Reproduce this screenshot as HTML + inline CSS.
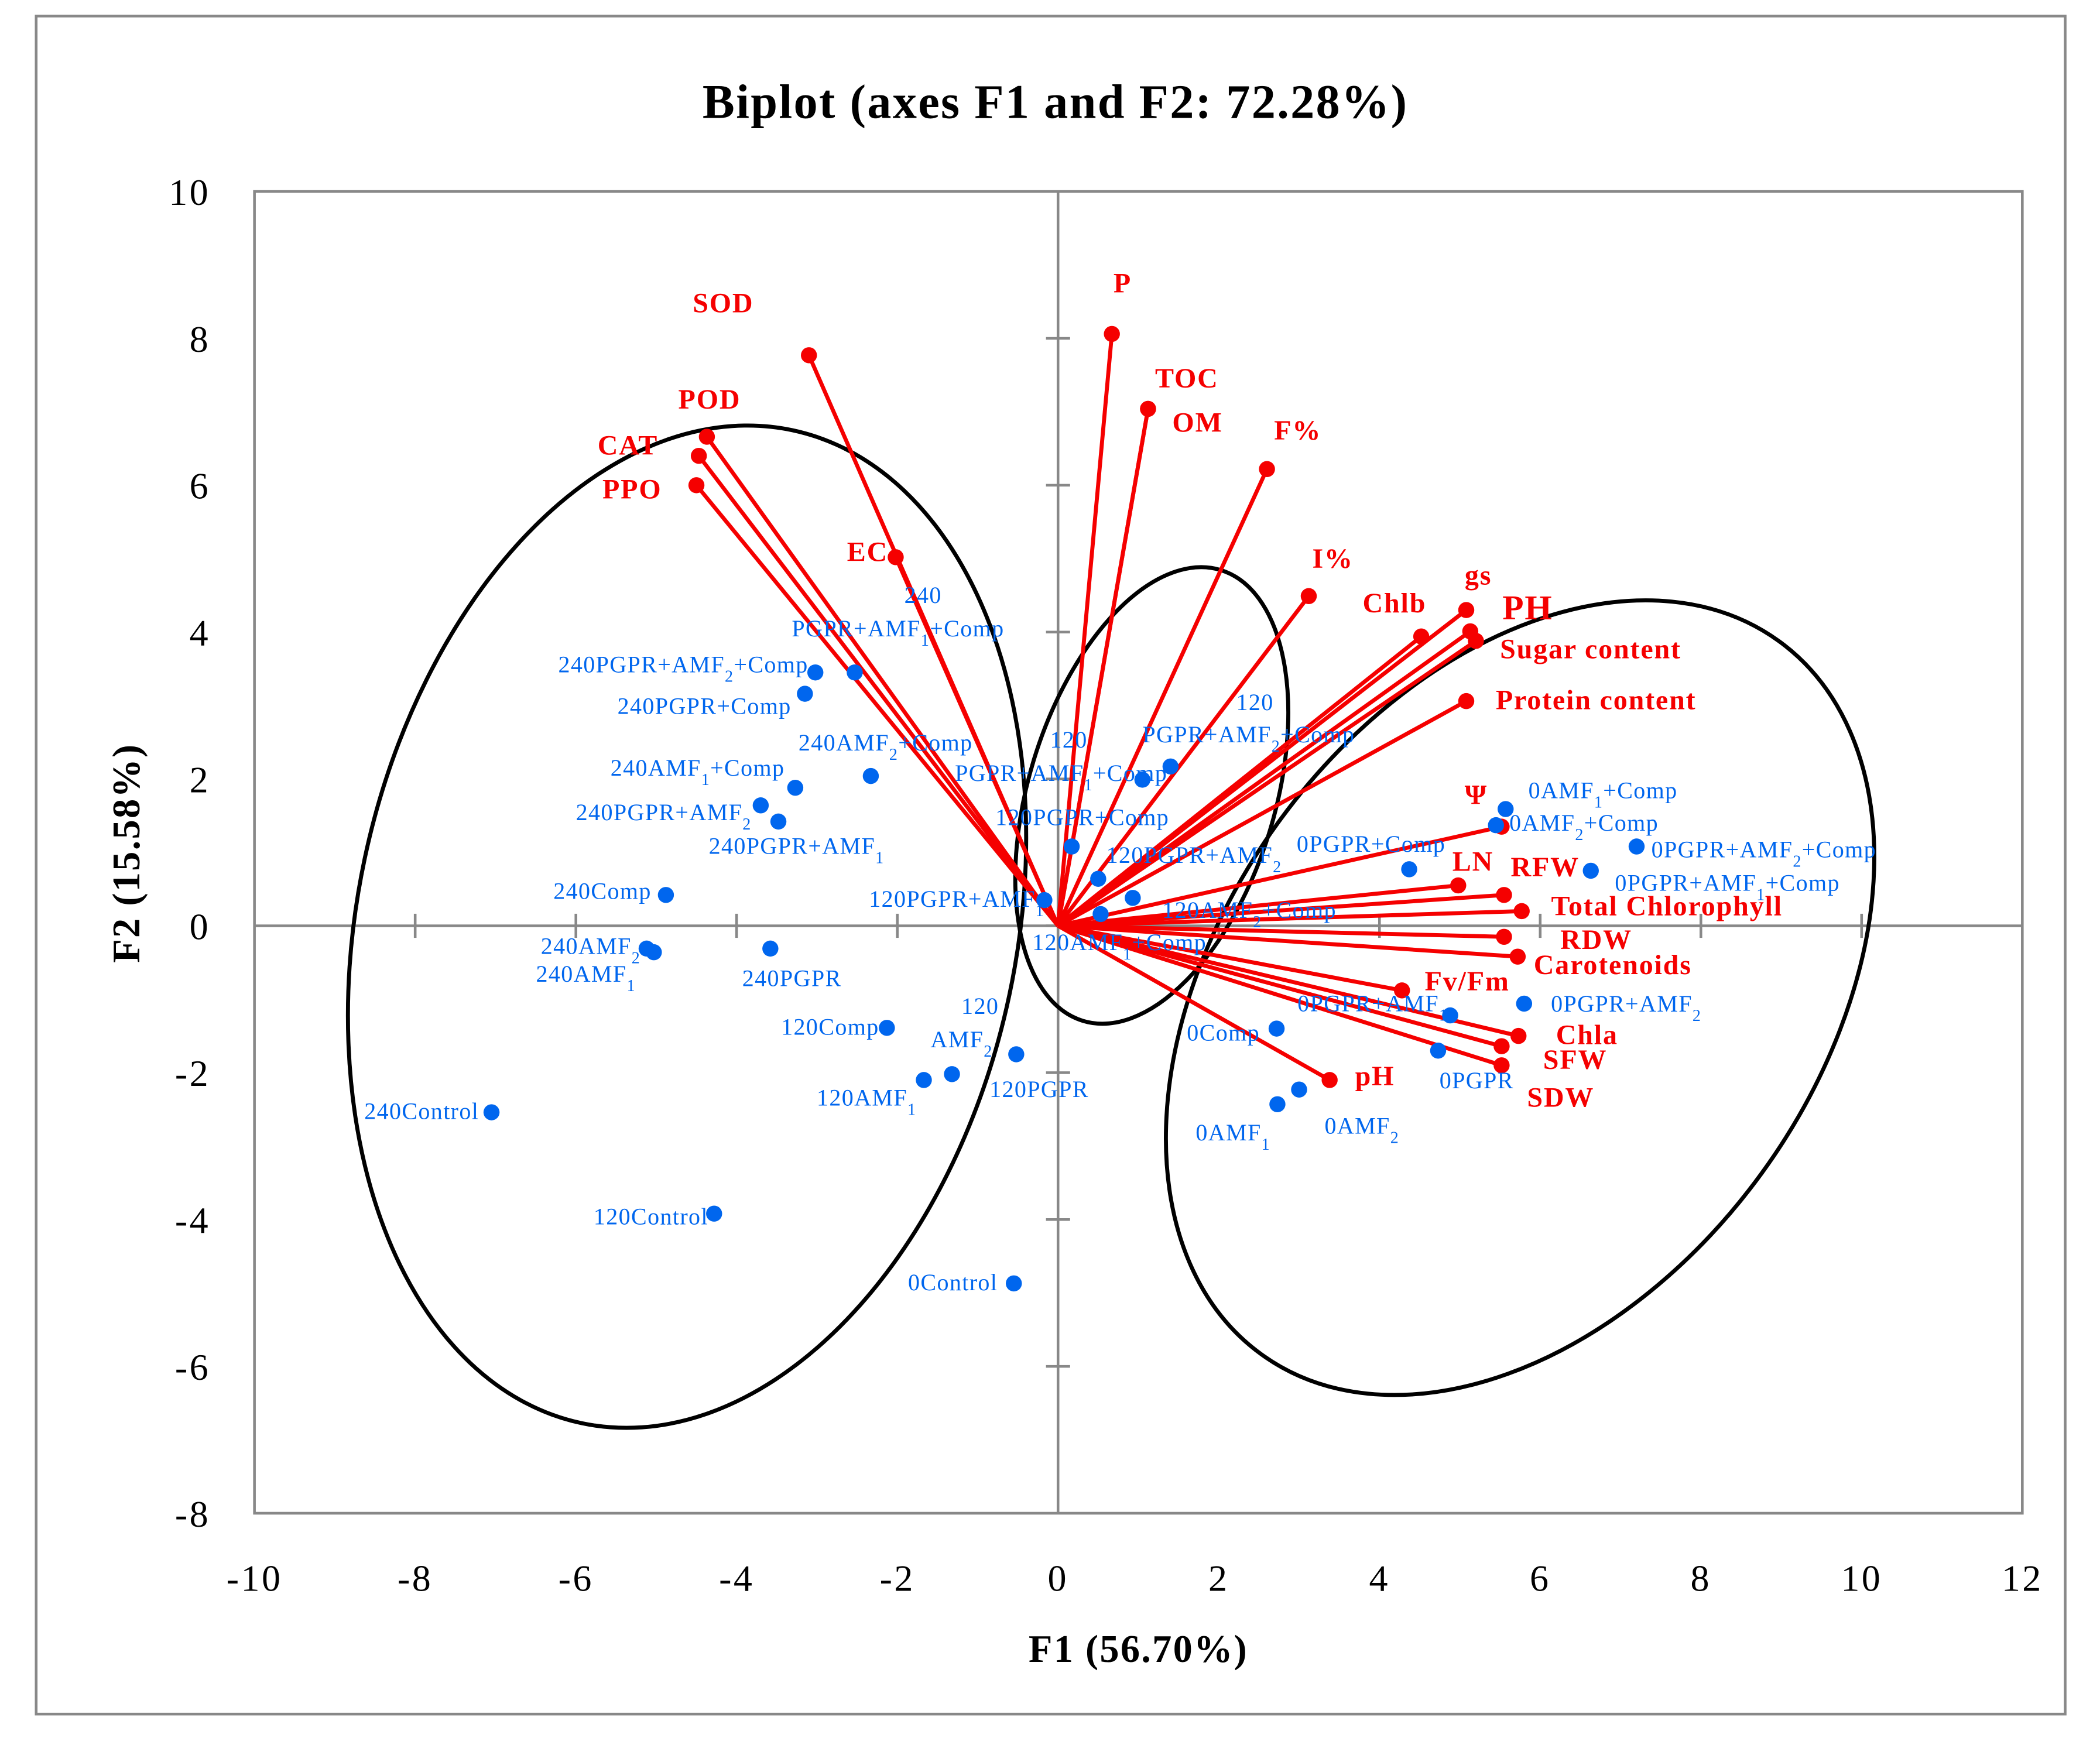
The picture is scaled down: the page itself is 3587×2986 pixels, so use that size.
<!DOCTYPE html>
<html><head><meta charset="utf-8"><style>
html,body{margin:0;padding:0;background:#fff;}
svg{display:block;}
text{font-family:"Liberation Serif",serif;}
</style></head><body>
<svg id="chart" width="3587" height="2986" viewBox="0 0 1568 1305.3" preserveAspectRatio="none" xmlns="http://www.w3.org/2000/svg">
<rect x="27" y="12" width="1515" height="1268" fill="#fff" stroke="#888" stroke-width="2"/>
<text x="788" y="88" font-size="36" font-weight="bold" letter-spacing="1" text-anchor="middle">Biplot (axes F1 and F2: 72.28%)</text>
<text x="850" y="1241" font-size="29" font-weight="bold" letter-spacing="1" text-anchor="middle">F1 (56.70%)</text>
<text transform="translate(104,637) rotate(-90)" font-size="29" font-weight="bold" letter-spacing="1" text-anchor="middle">F2 (15.58%)</text>
<g id="g"></g>
</svg>
<script>
const xTicks=[-10,-8,-6,-4,-2,0,2,4,6,8,10,12];
const yTicks=[-8,-6,-4,-2,0,2,4,6,8,10];
const varNames=["SOD","POD","CAT","PPO","EC","P","TOC","OM","F%","I%","Chlb","gs","PH","Sugar content","Protein content","Ψ","LN","RFW","Total Chlorophyll","RDW","Carotenoids","Fv/Fm","Chla","SFW","SDW","pH"];
const varX=[-3.1,-4.37,-4.47,-4.5,-2.02,0.67,1.12,1.12,2.6,3.12,4.52,5.08,5.13,5.2,5.08,5.52,4.98,5.55,5.77,5.55,5.72,4.28,5.73,5.52,5.52,3.38];
const varY=[7.77,6.66,6.40,6.0,5.02,8.06,7.04,7.04,6.22,4.49,3.94,4.30,4.01,3.88,3.06,1.35,0.55,0.42,0.2,-0.15,-0.42,-0.88,-1.5,-1.64,-1.9,-2.1];
const obsNames=["240PGPR+AMF_1+Comp","240PGPR+AMF_2+Comp","240PGPR+Comp","240AMF_2+Comp","240AMF_1+Comp","240PGPR+AMF_2","240PGPR+AMF_1","240Comp","240AMF_2","240AMF_1","240PGPR","240Control","120Comp","120AMF_2","120AMF_1","120PGPR","120Control","0Control","120PGPR+AMF_1","120PGPR+Comp","120PGPR+AMF_1+Comp","120PGPR+AMF_2+Comp","120PGPR+AMF_2","120AMF_2+Comp","120AMF_1+Comp","0PGPR+Comp","0AMF_1+Comp","0AMF_2+Comp","0PGPR+AMF_2+Comp","0PGPR+AMF_1+Comp","0PGPR+AMF_2","0PGPR+AMF_1","0PGPR","0Comp","0AMF_1","0AMF_2"];
const obsX=[-2.53,-3.02,-3.15,-2.33,-3.27,-3.7,-3.48,-4.88,-5.12,-5.03,-3.58,-7.05,-2.13,-1.32,-1.67,-0.52,-4.28,-0.55,-0.17,0.17,1.05,1.4,0.5,0.93,0.53,4.37,5.57,5.45,7.2,6.63,5.8,4.88,4.73,2.72,2.73,3.0];
const obsY=[3.45,3.45,3.16,2.04,1.88,1.64,1.42,0.42,-0.31,-0.36,-0.31,-2.54,-1.39,-2.02,-2.1,-1.75,-3.92,-4.87,0.35,1.08,1.99,2.17,0.64,0.38,0.16,0.77,1.59,1.37,1.08,0.75,-1.06,-1.22,-1.70,-1.40,-2.43,-2.23];
// label layout (pixel offsets, not data)
const varLab=[[-64,-32,"middle"],[2,-21,"middle"],[-53,-1,"middle"],[-48,10,"middle"],[-21,3,"middle"],[8,-31,"middle"],[29,-16,"middle"],[37,17,"middle"],[23,-22,"middle"],[18,-21,"middle"],[-20,-18,"middle"],[9,-19,"middle"],[24,-9,"start"],[18,13,"start"],[22,6,"start"],[-19,-17,"middle"],[11,-11,"middle"],[5,-14,"start"],[22,3,"start"],[42,9,"start"],[12,13,"start"],[17,0,"start"],[28,6,"start"],[31,17,"start"],[19,31,"start"],[19,4,"start"]];
const obsLab=[[-47,-27,"240|PGPR+AMF_1+Comp",37,-52],[-192,0],[-140,15],[-54,-19],[-138,-9],[-138,11],[-52,24],[-84,3],[-79,4],[-88,22],[-21,28],[-95,5],[-79,5],[-16,-20,"120|AMF_2",7,-45],[-80,19],[-20,32],[-90,8],[-79,5],[-131,5],[-57,-16],[-140,1,"120|PGPR+AMF_1+Comp",-69,-24],[-21,-18,"120|PGPR+AMF_2+Comp",49,-42],[6,-12],[22,15],[-51,27],[-84,-13],[17,-8],[10,4],[11,8],[18,15],[20,6],[-114,-3],[1,28],[-67,9],[-61,27],[19,33]];
const W0=190,W1=1510,Y0=143,Y1=1130;
const sx=v=>W0+(v+10)*(W1-W0)/22;
const sy=v=>Y1-(v+8)*(Y1-Y0)/18;
const NS="http://www.w3.org/2000/svg";
const g=document.getElementById('g');
function mk(t,a,p){const e=document.createElementNS(NS,t);for(const k in a)e.setAttribute(k,a[k]);(p||g).appendChild(e);return e;}
function rich(el,s){const parts=s.split(/_(\d)/);parts.forEach((p,i)=>{const t=document.createElementNS(NS,'tspan');if(i%2){t.setAttribute('baseline-shift','sub');t.setAttribute('font-size','70%');}t.textContent=p;el.appendChild(t);});}
let r=mk('rect',{x:W0,y:Y0,width:W1-W0,height:Y1-Y0,fill:'none',stroke:'#888','stroke-width':2});


let ax=mk('line',{x1:W0,x2:W1,y1:sy(0),y2:sy(0),stroke:'#888','stroke-width':2});


let ay=mk('line',{x1:sx(0),x2:sx(0),y1:Y0,y2:Y1,stroke:'#888','stroke-width':2});


xTicks.forEach(v=>{
 if(v>-10&&v<12){const t=mk('line',{x1:sx(v),x2:sx(v),y1:sy(0)-9,y2:sy(0)+9,stroke:'#888','stroke-width':2});
 
 }
 const l=mk('text',{x:sx(v),y:1188,'font-size':28,'letter-spacing':1.5,'text-anchor':'middle'});l.textContent=v;
 
 
});
yTicks.forEach(v=>{
 if(v>-8&&v<10){const t=mk('line',{x1:sx(0)-9,x2:sx(0)+9,y1:sy(v),y2:sy(v),stroke:'#888','stroke-width':2});
 
 }
 const l=mk('text',{x:157,y:sy(v)+10,'font-size':28,'letter-spacing':1.5,'text-anchor':'end'});l.textContent=v;
 
 
});
[[513,692,246,379,12],[860,594,92,176,17],[1135,745,223,329,36]].forEach((e,i)=>{
 const el=mk('ellipse',{cx:0,cy:0,rx:e[2],ry:e[3],fill:'none',stroke:'#000','stroke-width':3,transform:`translate(${e[0]},${e[1]}) rotate(${e[4]})`});
 
 
});
const red='#f50000',blue='#0066ee';
varNames.forEach((n,i)=>{
 const px=sx(varX[i]),py=sy(varY[i]);
 const ln=mk('line',{x1:sx(0),y1:sy(0),x2:px,y2:py,stroke:red,'stroke-width':3});
 
 
 const c=mk('circle',{cx:px,cy:py,r:6,fill:red});
 
 
 const o=varLab[i];
 const t=mk('text',{x:px+o[0],y:py+o[1],'font-size':n==="PH"?26:21,'letter-spacing':0.8,'font-weight':'bold',fill:red,'text-anchor':o[2]});
 t.textContent=n;
 
 
});
obsNames.forEach((n,i)=>{
 const px=sx(obsX[i]),py=sy(obsY[i]);
 const c=mk('circle',{cx:px,cy:py,r:6,fill:blue});
 
 
 const o=obsLab[i];
 const st={'font-size':17.5,'letter-spacing':0.6,fill:blue};
 if(o.length>2){
  const [a,b]=o[2].split('|');
  const t1=mk('text',Object.assign({x:px+o[3],y:py+o[4]},st));rich(t1,a);
  
  
  const t2=mk('text',Object.assign({x:px+o[0],y:py+o[1]},st));rich(t2,b);
  
  
 } else {
  const t=mk('text',Object.assign({x:px+o[0],y:py+o[1]},st));rich(t,n);
  
  
 }
});
</script>
</body></html>
